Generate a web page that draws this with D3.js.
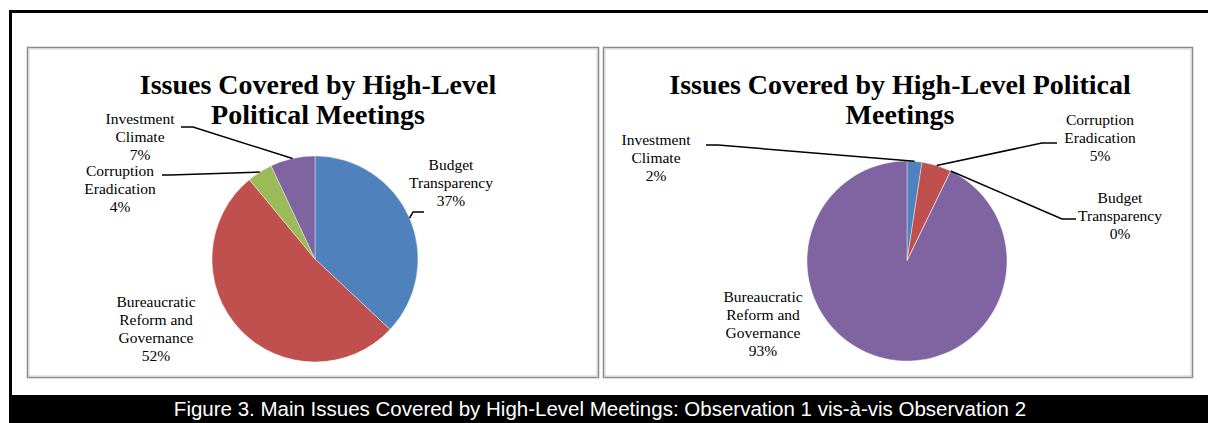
<!DOCTYPE html>
<html>
<head>
<meta charset="utf-8">
<script src="https://cdn.jsdelivr.net/npm/d3@7"></script>
<style>
    body { margin: 0; background: #fff; }
    .title { font-family: "Liberation Serif", "Times New Roman", serif; font-weight: bold; font-size: 28px; fill: #000; }
    .lbl { font-family: "Liberation Serif", "Times New Roman", serif; font-size: 15.5px; fill: #000; }
    .caption { font-family: "Liberation Sans", Arial, sans-serif; font-size: 20.5px; fill: #fff; }
</style>
</head>
<body>
<script>
//wrap everything in a self-executing anonymous function
(function(){

    //chart data, observation 1 (left) and observation 2 (right)
    var categoriesObs1 = ["Budget Transparency", "Bureaucratic Reform and Governance", "Corruption Eradication", "Investment Climate"];
    var valuesObs1 = [37, 52, 4, 7];

    var categoriesObs2 = ["Investment Climate", "Corruption Eradication", "Budget Transparency", "Bureaucratic Reform and Governance"];
    var valuesObs2 = [2.4, 4.8, 0, 92.8];

    //how each category label breaks into lines
    var labelLines = {
        "Budget Transparency": ["Budget", "Transparency"],
        "Bureaucratic Reform and Governance": ["Bureaucratic", "Reform and", "Governance"],
        "Corruption Eradication": ["Corruption", "Eradication"],
        "Investment Climate": ["Investment", "Climate"]
    };

    var sliceColors = ["#4F81BD", "#C0504D", "#9BBB59", "#8064A2"];

    var titleObs1 = ["Issues Covered by High-Level", "Political Meetings"];
    var titleObs2 = ["Issues Covered by High-Level Political", "Meetings"];
    var captionText = "Figure 3. Main Issues Covered by High-Level Meetings: Observation 1 vis-à-vis Observation 2";

    //layout: label block centre/first baseline, leader start and elbow (null = no leader)
    var layoutObs1 = [
        {x: 451, y: 170, lead: [[424, 212], [413, 212]]},
        {x: 156, y: 307, lead: null},
        {x: 120, y: 176, lead: [[162, 175], [170, 175]]},
        {x: 140, y: 124, lead: [[181, 127], [193, 127]]}
    ];
    var layoutObs2 = [
        {x: 656, y: 145, lead: [[706, 145], [718, 145]]},
        {x: 1100, y: 125, lead: [[1057, 143], [1042, 143]]},
        {x: 1120, y: 203, lead: [[1076, 219], [1062, 219]]},
        {x: 763, y: 302, lead: null}
    ];

    var width = 1208,
        height = 423;

    var svg = d3.select("body")
        .append("svg")
        .attr("width", width)
        .attr("height", height);

    //outer black frame (runs off the right edge)
    svg.append("rect")
        .attr("x", 10.5)
        .attr("y", 11.5)
        .attr("width", 1210)
        .attr("height", 400)
        .attr("fill", "none")
        .attr("stroke", "#000")
        .attr("stroke-width", 3);

    //caption bar
    svg.append("rect")
        .attr("x", 9)
        .attr("y", 395)
        .attr("width", width - 9)
        .attr("height", height - 395)
        .attr("fill", "#000");

    svg.append("text")
        .attr("class", "caption")
        .attr("x", 600)
        .attr("y", 416)
        .attr("text-anchor", "middle")
        .text(captionText);

    drawPanel({x: 27, y: 47, w: 571, h: 330}, titleObs1, 318, categoriesObs1, valuesObs1, layoutObs1, [315, 259], 103);
    drawPanel({x: 603, y: 47, w: 589, h: 330}, titleObs2, 900, categoriesObs2, valuesObs2, layoutObs2, [907, 261], 100);

    function drawPanel(box, title, titleX, categories, values, layout, center, radius){

        //gray chart frame
        svg.append("rect")
            .attr("x", box.x + 0.5)
            .attr("y", box.y + 0.5)
            .attr("width", box.w)
            .attr("height", box.h)
            .attr("fill", "#fff")
            .attr("stroke", "#8a8a8a")
            .attr("stroke-width", 1.5);
        svg.append("rect")
            .attr("x", box.x + 2)
            .attr("y", box.y + 2)
            .attr("width", box.w - 3)
            .attr("height", box.h - 3)
            .attr("fill", "none")
            .attr("stroke", "#cfcfcf")
            .attr("stroke-width", 1);

        //title
        svg.selectAll(null)
            .data(title)
            .enter()
            .append("text")
            .attr("class", "title")
            .attr("x", titleX)
            .attr("y", function(d, i){ return 94 + i * 30; })
            .attr("text-anchor", "middle")
            .text(function(d){ return d; });

        var total = d3.sum(values);

        var pie = d3.pie()
            .sort(null)
            .value(function(d){ return d; });

        var arcs = pie(values);

        var arc = d3.arc()
            .innerRadius(0)
            .outerRadius(radius);

        //arc on the rim, centroid gives the leader end point
        var rimArc = d3.arc()
            .innerRadius(radius)
            .outerRadius(radius);

        var g = svg.append("g")
            .attr("transform", "translate(" + center[0] + "," + center[1] + ")");

        g.selectAll(".slice")
            .data(arcs)
            .enter()
            .append("path")
            .attr("class", "slice")
            .attr("d", arc)
            .attr("fill", function(d, i){ return sliceColors[i]; })
            .attr("stroke", "#fff")
            .attr("stroke-width", 0.4);

        //leader lines
        arcs.forEach(function(d, i){
            var lay = layout[i];
            if (!lay.lead) return;
            var end = rimArc.centroid(d);
            var pts = lay.lead.concat([[end[0] + center[0], end[1] + center[1]]]);
            svg.append("path")
                .attr("d", d3.line()(pts))
                .attr("fill", "none")
                .attr("stroke", "#000")
                .attr("stroke-width", 1.5);
        });

        //data labels
        arcs.forEach(function(d, i){
            var lay = layout[i];
            var lines = labelLines[categories[i]].concat([Math.round(d.data / total * 100) + "%"]);
            svg.selectAll(null)
                .data(lines)
                .enter()
                .append("text")
                .attr("class", "lbl")
                .attr("x", lay.x)
                .attr("y", function(t, k){ return lay.y + k * 18; })
                .attr("text-anchor", "middle")
                .text(function(t){ return t; });
        });
    };

})();
</script>
</body>
</html>
